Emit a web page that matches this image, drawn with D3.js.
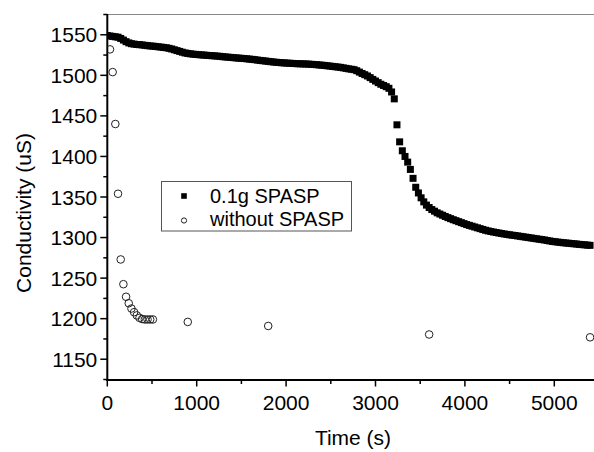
<!DOCTYPE html>
<html>
<head>
<meta charset="utf-8">
<script src="https://cdn.jsdelivr.net/npm/d3@7"></script>
<style>
  body { margin: 0; background: #fff; }
  svg { display: block; font-family: "Liberation Sans", Arial, sans-serif; }
</style>
</head>
<body>
<svg id="chart" width="594" height="452"></svg>
<script>
// 0.1g SPASP, [time (s), conductivity (uS)].
const withSpasp = [
  [0, 1549], [30, 1548.5], [60, 1548], [90, 1547.5], [120, 1547], [150, 1545.5], [180, 1543.5], [210, 1541.5], [240, 1540], [270, 1539],
  [300, 1538.5], [330, 1538], [360, 1537.8], [390, 1537.5], [420, 1537], [450, 1536.6], [480, 1536.2], [510, 1536], [540, 1535.6], [570, 1535.2],
  [600, 1534.8], [630, 1534.4], [660, 1534], [690, 1533.3], [720, 1532.5], [750, 1531.5], [780, 1530.5], [810, 1529.5], [840, 1528.5], [870, 1527.6],
  [900, 1527], [930, 1526.5], [960, 1526.1], [990, 1525.8], [1020, 1525.5], [1050, 1525.2], [1080, 1525], [1110, 1524.7], [1140, 1524.4], [1170, 1524.2],
  [1200, 1524], [1230, 1523.7], [1260, 1523.4], [1290, 1523], [1320, 1522.7], [1350, 1522.4], [1380, 1522.1], [1410, 1521.8], [1440, 1521.5], [1470, 1521.2],
  [1500, 1521], [1530, 1520.7], [1560, 1520.4], [1590, 1520], [1620, 1519.7], [1650, 1519.3], [1680, 1518.8], [1710, 1518.4], [1740, 1518], [1770, 1517.6],
  [1800, 1517.2], [1830, 1516.8], [1860, 1516.4], [1890, 1516.1], [1920, 1515.8], [1950, 1515.5], [1980, 1515.3], [2010, 1515.1], [2040, 1514.9], [2070, 1514.7],
  [2100, 1514.5], [2130, 1514.3], [2160, 1514.2], [2190, 1514.1], [2220, 1514], [2250, 1513.8], [2280, 1513.6], [2310, 1513.4], [2340, 1513.1], [2370, 1512.8],
  [2400, 1512.5], [2430, 1512.2], [2460, 1511.8], [2490, 1511.4], [2520, 1511], [2550, 1510.6], [2580, 1510.2], [2610, 1509.8], [2640, 1509.2], [2670, 1508.6],
  [2700, 1508], [2730, 1507.5], [2760, 1507], [2790, 1505.7], [2820, 1504], [2850, 1502.3], [2880, 1500.8], [2910, 1499.2], [2940, 1497.2], [2970, 1495],
  [3000, 1493], [3030, 1491], [3060, 1489], [3090, 1487.5], [3120, 1486], [3150, 1484], [3180, 1479.5], [3210, 1471], [3240, 1439], [3270, 1418],
  [3300, 1407], [3330, 1400], [3360, 1393], [3390, 1384], [3420, 1373], [3450, 1362], [3480, 1355], [3510, 1349], [3540, 1344], [3570, 1340],
  [3600, 1337], [3630, 1334.5], [3660, 1332.5], [3690, 1330.5], [3720, 1329], [3750, 1327.5], [3780, 1326], [3810, 1324.6], [3840, 1323.3], [3870, 1322],
  [3900, 1320.8], [3930, 1319.6], [3960, 1318.4], [3990, 1317.2], [4020, 1316], [4050, 1315], [4080, 1314], [4110, 1313], [4140, 1312], [4170, 1311],
  [4200, 1310], [4230, 1309], [4260, 1308.2], [4290, 1307.5], [4320, 1306.8], [4350, 1306.2], [4380, 1305.6], [4410, 1305], [4440, 1304.4], [4470, 1303.9],
  [4500, 1303.4], [4530, 1302.9], [4560, 1302.5], [4590, 1302], [4620, 1301.5], [4650, 1301], [4680, 1300.5], [4710, 1300], [4740, 1299.5], [4770, 1299],
  [4800, 1298.5], [4830, 1298], [4860, 1297.5], [4890, 1297], [4920, 1296.4], [4950, 1295.8], [4980, 1295.2], [5010, 1294.8], [5040, 1294.4], [5070, 1294],
  [5100, 1293.6], [5130, 1293.3], [5160, 1293], [5190, 1292.6], [5220, 1292.3], [5250, 1292], [5280, 1291.6], [5310, 1291.3], [5340, 1291], [5370, 1290.7],
  [5400, 1290.4]
];

// without SPASP
const withoutSpasp = [
  [30, 1532], [60, 1504], [90, 1440], [120, 1354], [150, 1273], [180, 1242.5], [210, 1227], [240, 1219], [270, 1212.5],
  [300, 1208], [330, 1204], [360, 1201], [390, 1199.5], [420, 1199], [450, 1199], [480, 1199], [510, 1199],
  [900, 1196], [1800, 1191], [3600, 1180.5], [5400, 1177]
];

const seriesNames = ['0.1g SPASP', 'without SPASP'];
const xTicks = [0, 1000, 2000, 3000, 4000, 5000];
const yTicks = [1150, 1200, 1250, 1300, 1350, 1400, 1450, 1500, 1550];

const svg = d3.select('#chart');
const margin = { top: 14, left: 107.3 };

const x = d3.scaleLinear().domain([0, 5000]).range([margin.left, 554.3]);
const y = d3.scaleLinear().domain([1125, 1575]).range([379.5, 14.5]);

const plotRight = 594;
const plotBottom = 380;

// Frame top line.
svg.append('line')
  .attr('x1', margin.left).attr('x2', plotRight)
  .attr('y1', margin.top + 0.5).attr('y2', margin.top + 0.5)
  .attr('stroke', '#888').attr('stroke-width', 1);

// Minor ticks first, majors on top.
const xMinor = d3.range(500, 5500, 1000);
const yMinor = d3.range(1125, 1600, 50);

const xAxis = svg.append('g')
  .attr('transform', `translate(0,${plotBottom})`);
xAxis.append('line')
  .attr('x1', margin.left - 1).attr('x2', plotRight)
  .attr('stroke', '#000').attr('stroke-width', 2);
xAxis.selectAll('line.minor').data(xMinor).enter().append('line')
  .attr('class', 'minor')
  .attr('x1', d => x(d)).attr('x2', d => x(d))
  .attr('y1', 0).attr('y2', 4)
  .attr('stroke', '#000').attr('stroke-width', 1.5);
xAxis.selectAll('line.major').data(xTicks).enter().append('line')
  .attr('class', 'major')
  .attr('x1', d => x(d)).attr('x2', d => x(d))
  .attr('y1', 0).attr('y2', 6.5)
  .attr('stroke', '#000').attr('stroke-width', 1.5);
xAxis.selectAll('text').data(xTicks).enter().append('text')
  .attr('x', d => x(d))
  .attr('y', 29.5)
  .attr('text-anchor', 'middle')
  .attr('font-size', 21)
  .text(d => d);

const yAxis = svg.append('g')
  .attr('transform', `translate(${margin.left},0)`);
yAxis.append('line')
  .attr('y1', margin.top).attr('y2', plotBottom + 1)
  .attr('stroke', '#000').attr('stroke-width', 2);
yAxis.selectAll('line.minor').data(yMinor).enter().append('line')
  .attr('class', 'minor')
  .attr('x1', 0).attr('x2', -4)
  .attr('y1', d => y(d)).attr('y2', d => y(d))
  .attr('stroke', '#000').attr('stroke-width', 1.5);
yAxis.selectAll('line.major').data(yTicks).enter().append('line')
  .attr('class', 'major')
  .attr('x1', 0).attr('x2', -7)
  .attr('y1', d => y(d)).attr('y2', d => y(d))
  .attr('stroke', '#000').attr('stroke-width', 1.5);
yAxis.selectAll('text').data(yTicks).enter().append('text')
  .attr('x', -10)
  .attr('y', d => y(d))
  .attr('dy', '0.36em')
  .attr('text-anchor', 'end')
  .attr('font-size', 21)
  .text(d => d);

// Axis titles.
svg.append('text')
  .attr('x', 353).attr('y', 445)
  .attr('text-anchor', 'middle')
  .attr('font-size', 21)
  .text('Time (s)');
svg.append('text')
  .attr('transform', 'translate(31,213) rotate(-90)')
  .attr('text-anchor', 'middle')
  .attr('font-size', 21)
  .text('Conductivity (uS)');

// Data, clipped to the plot.
svg.append('clipPath').attr('id', 'plot-clip')
  .append('rect')
  .attr('x', margin.left).attr('y', margin.top)
  .attr('width', plotRight - margin.left).attr('height', plotBottom - margin.top);

const marks = svg.append('g').attr('clip-path', 'url(#plot-clip)');
const sq = 7;

marks.selectAll('rect.sq').data(withSpasp).enter().append('rect')
  .attr('class', 'sq')
  .attr('x', d => x(d[0]) - sq / 2)
  .attr('y', d => y(d[1]) - sq / 2)
  .attr('width', sq).attr('height', sq)
  .attr('fill', '#000');

marks.selectAll('circle').data(withoutSpasp).enter().append('circle')
  .attr('cx', d => x(d[0]))
  .attr('cy', d => y(d[1]))
  .attr('r', 3.8)
  .attr('fill', 'none')
  .attr('stroke', '#222')
  .attr('stroke-width', 1);

// Legend.
const legend = svg.append('g');
legend.append('rect')
  .attr('x', 161.5).attr('y', 181.5)
  .attr('width', 190).attr('height', 49.5)
  .attr('fill', '#fff')
  .attr('stroke', '#555').attr('stroke-width', 1);
legend.append('rect')
  .attr('x', 184 - 2.8).attr('y', 196 - 2.8)
  .attr('width', 5.6).attr('height', 5.6)
  .attr('fill', '#000');
legend.append('circle')
  .attr('cx', 184).attr('cy', 220.5)
  .attr('r', 2.6)
  .attr('fill', 'none')
  .attr('stroke', '#222');
legend.selectAll('text').data(seriesNames).enter().append('text')
  .attr('x', 210)
  .attr('y', (d, i) => 202.5 + i * 23)
  .attr('font-size', 20)
  .text(d => d);
</script>
</body>
</html>
